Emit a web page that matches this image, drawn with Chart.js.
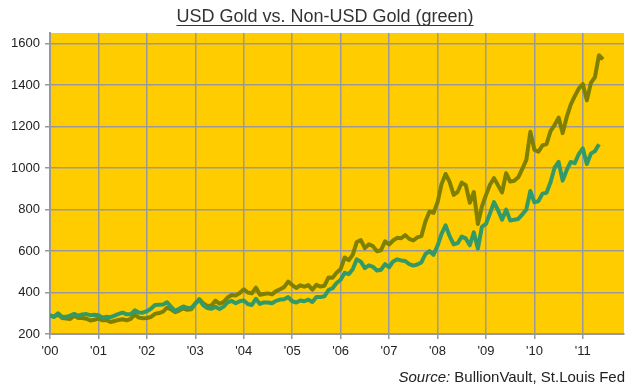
<!DOCTYPE html>
<html>
<head>
<meta charset="utf-8">
<script src="https://cdn.jsdelivr.net/npm/chart.js@4"></script>
<style>
  html, body { margin: 0; padding: 0; background: #ffffff; }
  #wrap { width: 639px; height: 384px; position: relative; }
</style>
</head>
<body>
<div id="wrap"><canvas id="chart"></canvas></div>
<script>
// month-end values, first point is Dec 1999 (plotted at the start of 2000)
var startYear = 2000;
var yearLabels = ["'00", "'01", "'02", "'03", "'04", "'05", "'06", "'07", "'08", "'09", "'10", "'11"];
var yTicks = [200, 400, 600, 800, 1000, 1200, 1400, 1600];

var usdGold = [290,
  283, 294, 277, 275, 272, 288, 277, 277, 274, 265, 269, 274,
  266, 267, 258, 263, 268, 271, 266, 273, 293, 279, 276, 277,
  282, 297, 301, 308, 327, 319, 305, 313, 324, 317, 319, 347,
  368, 347, 335, 337, 361, 346, 355, 376, 388, 386, 398, 416,
  400, 396, 424, 389, 393, 396, 391, 407, 416, 426, 453, 436,
  422, 435, 428, 436, 414, 437, 429, 433, 473, 471, 496, 513,
  569, 556, 582, 644, 653, 614, 633, 624, 599, 604, 647, 632,
  651, 664, 662, 677, 659, 651, 666, 672, 743, 790, 784, 834,
  923, 972, 934, 871, 886, 930, 918, 833, 885, 731, 815, 870,
  920, 952, 917, 883, 976, 935, 939, 956, 996, 1040, 1176, 1088,
  1079, 1110, 1116, 1179, 1208, 1244, 1169, 1246, 1307, 1347, 1384, 1406,
  1327, 1411, 1439, 1545, 1525];

var nonUsdGold = [290,
  283, 300, 282, 283, 289, 297, 288, 294, 296, 291, 293, 291,
  279, 283, 281, 289, 297, 303, 295, 295, 314, 304, 303, 310,
  322, 340, 341, 342, 353, 331, 311, 322, 333, 326, 325, 347,
  365, 338, 325, 322, 331, 320, 332, 353, 360, 348, 358, 362,
  345, 340, 370, 345, 352, 352, 348, 360, 366, 368, 378, 358,
  352, 362, 358, 366, 354, 378, 378, 382, 412, 421, 446, 462,
  495, 489, 512, 560, 549, 518, 531, 524, 506, 510, 537, 522,
  550, 560, 555, 552, 537, 530, 535, 545, 585, 600, 582, 625,
  683, 724, 672, 632, 638, 670, 661, 628, 690, 612, 717, 731,
  782, 836, 797, 751, 800, 748, 751, 755, 777, 801, 890, 835,
  841, 877, 881, 932, 1002, 1030, 940, 990, 1030, 1024, 1068, 1095,
  1020, 1070, 1082, 1115];

function toPoints(values) {
    return values.map((v, i) => {
        return {x: startYear + i / 12, y: v};
    });
}

const FONT = "'Liberation Sans', Arial, sans-serif";

const plotBackground = {
    id: "plotBackground",
    beforeDraw: function(chart) {
        const a = chart.chartArea;
        const ctx = chart.ctx;
        ctx.save();
        ctx.fillStyle = "#ffcc00";
        ctx.fillRect(a.left, a.top, a.right - a.left, a.bottom - a.top);
        ctx.restore();
    }
};

const texts = {
    id: "texts",
    afterDraw: function(chart) {
        const ctx = chart.ctx;
        ctx.save();
        // title, underlined
        const title = "USD Gold vs. Non-USD Gold (green)";
        ctx.font = "18px " + FONT;
        ctx.fillStyle = "#333333";
        ctx.textBaseline = "alphabetic";
        const tw = ctx.measureText(title).width;
        const tx = 325 - tw / 2;
        ctx.fillText(title, tx, 22);
        ctx.strokeStyle = "#333333";
        ctx.lineWidth = 1;
        ctx.beginPath();
        ctx.moveTo(tx, 25.5);
        ctx.lineTo(tx + tw, 25.5);
        ctx.stroke();

        // source, right aligned
        const rest = " BullionVault, St.Louis Fed";
        ctx.font = "15px " + FONT;
        const rw = ctx.measureText(rest).width;
        const right = 625;
        ctx.fillStyle = "#222222";
        ctx.fillText(rest, right - rw, 382);
        ctx.font = "italic 15px " + FONT;
        const sw = ctx.measureText("Source:").width;
        ctx.fillText("Source:", right - rw - sw, 382);
        ctx.restore();
    }
};

var chart = new Chart(document.getElementById("chart"), {
    type: "line",
    data: {
        datasets: [
        {
            label: "USD Gold",
            data: toPoints(usdGold),
            borderColor: "#808000",
            borderWidth: 4,
            pointRadius: 0,
            tension: 0,
            borderJoinStyle: "round",
            order: 2,
        },
        {
            label: "Non-USD Gold",
            data: toPoints(nonUsdGold),
            borderColor: "#339966",
            borderWidth: 4,
            pointRadius: 0,
            tension: 0,
            borderJoinStyle: "round",
            order: 1,
        },
        ]
    },
    options: {
        responsive: true,
        maintainAspectRatio: false,
        animation: false,
        devicePixelRatio: 1,
        layout: {
            padding: {top: 33, right: 15, left: 0, bottom: 0}
        },
        scales: {
            x: {
                type: "linear",
                min: 2000,
                max: 2011.85,
                afterBuildTicks: function(scale) {
                    scale.ticks = yearLabels.map((_, i) => ({value: startYear + i}));
                },
                afterFit: function(scale) {
                    scale.height = 50;
                },
                ticks: {
                    color: "#222222",
                    font: {family: FONT, size: 13},
                    padding: 5,
                    maxRotation: 0,
                    autoSkip: false,
                    callback: (v) => yearLabels[Math.round(v) - startYear],
                },
                grid: {
                    color: "#999999",
                    lineWidth: 1.5,
                    tickLength: 5,
                },
                border: {
                    color: "#999999",
                    width: 2,
                },
            },
            y: {
                min: 200,
                max: 1652,
                afterBuildTicks: function(scale) {
                    scale.ticks = yTicks.map((v) => ({value: v}));
                },
                afterFit: function(scale) {
                    scale.width = 50;
                },
                ticks: {
                    color: "#222222",
                    font: {family: FONT, size: 13},
                    padding: 5,
                    callback: (v) => String(v),
                },
                grid: {
                    color: "#999999",
                    lineWidth: 1.5,
                    tickLength: 5,
                },
                border: {
                    color: "#999999",
                    width: 2,
                },
            }
        },
        plugins: {
            legend: {display: false},
            tooltip: {enabled: false},
        }
    },
    plugins: [plotBackground, texts]
});
</script>
</body>
</html>
